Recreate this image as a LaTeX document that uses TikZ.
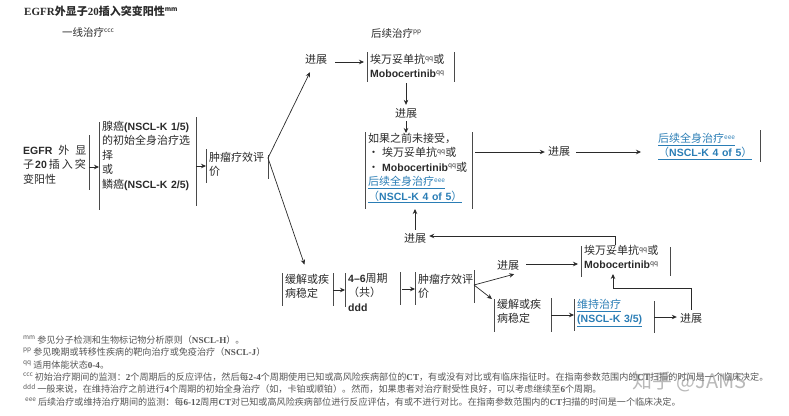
\documentclass[tikz,border=0pt]{standalone}
\usepackage{fontspec}
\setmainfont{Noto Sans CJK SC}
\newfontfamily\sansfont{Liberation Sans}
\newfontfamily\seriffont{Liberation Serif}
\usetikzlibrary{arrows.meta}

\definecolor{inkgray}{HTML}{2A2A2A}
\definecolor{barcolor}{HTML}{4A4A4A}
\definecolor{linkblue}{HTML}{2A7DB5}
\definecolor{notegray}{HTML}{555555}

\newcommand{\en}[1]{{\sansfont\bfseries\fontsize{10.5}{14.4}\selectfont #1}}
\newcommand{\sr}[1]{{\seriffont\bfseries #1}}
\newcommand{\sps}[1]{\raisebox{3.5pt}{\fontsize{6.5}{6.5}\selectfont #1}}
\newcommand{\lnk}[1]{\textcolor{linkblue}{\underline{#1}}}
\newcommand{\sidebars}[5]{%
  \draw[bar] (#1.west |- 0,#2) -- (#1.west |- 0,#3);
  \draw[bar] (#1.east |- 0,#4) -- (#1.east |- 0,#5);}

\tikzset{
  flowbox/.style={anchor=north west, align=left, inner xsep=3pt, inner ysep=0pt,
    text=inkgray, font=\fontsize{11}{14.4}\selectfont},
  steplabel/.style={inner sep=3pt, text=inkgray, font=\fontsize{11}{14}\selectfont},
  headlabel/.style={anchor=west, inner sep=0pt, text=inkgray, font=\fontsize{10.5}{12}\selectfont},
  fnote/.style={anchor=west, inner sep=0pt, text=notegray, font=\fontsize{9.1}{10}\selectfont},
  bar/.style={draw=barcolor, line width=0.95pt},
  arr/.style={draw=inkgray, line width=0.7pt, -{Stealth[length=5pt,width=4.5pt]}}
}

\begin{document}
\begin{tikzpicture}[x=1pt,y=-1pt]

  % Fix the page to the size of the reference
  \useasboundingbox (0,0) rectangle (789,415);

  % Titles
  \node[headlabel,font=\bfseries\fontsize{11}{12}\selectfont] (title) at (24,11) {{\seriffont EGFR}外显子{\seriffont 20}插入突变阳性\sps{mm}};
  \node[headlabel] (firstline) at (62,32) {一线治疗\sps{ccc}};
  \node[headlabel] (laterline) at (371,33) {后续治疗\sps{pp}};

  % First line boxes
  \node[flowbox,text width=63pt] (egfr) at (20,145) {\mbox{\en{EGFR}\hspace{6pt}外\hspace{6pt}显}\\\mbox{子\hspace{1pt}\en{20}\hspace{2pt}插\hspace{2pt}入\hspace{2pt}突}\\变阳性};
  \node[flowbox,text width=91pt] (adeno) at (99,121) {腺癌\en{(NSCL-K~1/5)}\\的初始全身治疗选\\择\\或\\鳞癌\en{(NSCL-K~2/5)}};
  \node[flowbox,text width=56pt] (evalone) at (206,152) {肿瘤疗效评\\价};
  \draw[bar] (egfr.east |- 0,135) -- (egfr.east |- 0,190);
  \sidebars{adeno}{122}{210}{117}{206}
  \sidebars{evalone}{149}{183}{155}{179}

  % Later line boxes, upper branch
  \node[steplabel] (progtop) at (316,59) {进展};
  \node[flowbox,text width=81pt] (amivone) at (367,54) {埃万妥单抗\sps{qq}或\\\en{Mobocertinib}\sps{qq}};
  \node[steplabel] (progmid) at (406,113) {进展};
  \node[flowbox,text width=101pt] (ifnot) at (365,133) {如果之前未接受，\\\mbox{•\hspace{3pt}埃万妥单抗\sps{qq}或}\\\mbox{•\hspace{3pt}\en{Mobocertinib}\sps{qq}或}\\\lnk{后续全身治疗\sps{eee}}\\\lnk{（\en{NSCL-K~4~of~5}）}};
  \node[steplabel] (progright) at (559,151) {进展};
  \node[flowbox,text width=99pt] (nextall) at (655,133) {\lnk{后续全身治疗\sps{eee}}\\\lnk{（\en{NSCL-K~4~of~5}）}};
  \sidebars{amivone}{52}{82}{52}{82}
  \sidebars{ifnot}{132}{209}{132}{209}
  \draw[bar] (nextall.east |- 0,130) -- (nextall.east |- 0,162);

  % Stable disease branch
  \node[flowbox,text width=45pt] (stableone) at (282,274) {缓解或疾\\病稳定};
  \node[flowbox,text width=49pt] (cycles) at (345,273) {\en{4–6}周期\\（共）\\\en{ddd}};
  \node[flowbox,text width=53pt] (evaltwo) at (415,274) {肿瘤疗效评\\价};
  \node[steplabel] (proglow) at (415,238) {进展};
  \node[steplabel] (progsplit) at (508,265) {进展};
  \node[flowbox,text width=83pt] (amivtwo) at (581,245) {埃万妥单抗\sps{qq}或\\\en{Mobocertinib}\sps{qq}};
  \node[flowbox,text width=51pt] (stabletwo) at (494,299) {缓解或疾\\病稳定};
  \node[flowbox,text width=74pt] (maintain) at (574,299) {\lnk{维持治疗}\\\lnk{\en{(NSCL-K~3/5)}}};
  \node[steplabel] (progend) at (691,318) {进展};
  \sidebars{stableone}{273}{306}{273}{306}
  \sidebars{cycles}{273}{307}{272}{305}
  \sidebars{evaltwo}{272}{305}{270}{303}
  \sidebars{amivtwo}{246}{277}{247}{276}
  \sidebars{stabletwo}{299}{332}{298}{332}
  \sidebars{maintain}{299}{331}{301}{333}

  % Split points and bends
  \coordinate (splitup) at (268,158);
  \coordinate (splitlow) at (474,285);
  \coordinate (bendlow) at (613,288);

  % Connectors
  \draw[arr] (egfr.east |- 0,167) -- (adeno.west |- 0,167);
  \draw[arr] (adeno.east |- 0,166) -- (evalone.west |- 0,166);
  \draw[arr] (splitup) -- ([xshift=-6pt,yshift=-5pt]progtop.south);
  \draw[arr,shorten >=10pt] (splitup) -- (stableone.north);
  \draw[arr,shorten <=5pt,shorten >=3pt] (progtop.east |- 0,62) -- (amivone.west |- 0,62);
  \draw[arr] (amivone.south -| progmid) ++(0,5) -- (progmid.north);
  \draw[arr] (progmid.south) -- (progmid.south |- ifnot.north);
  \draw[arr,shorten <=3pt] (ifnot.east |- 0,152) -- (progright.west |- 0,152);
  \draw[arr,shorten <=3pt,shorten >=14pt] (progright.east |- 0,152) -- (nextall.west |- 0,152);
  \draw[arr] (proglow.north) -- (proglow.north |- 0,209);
  \draw[arr] (amivtwo.north -| 615,0) |- (proglow.east |- 0,236);
  \draw[arr] (stableone.east |- 0,290) -- (cycles.west |- 0,290);
  \draw[arr,shorten <=2pt] (cycles.east |- 0,289) -- (evaltwo.west |- 0,289);
  \draw[arr] (splitlow) -- ([xshift=-8pt,yshift=-1pt]progsplit.south east);
  \draw[arr] (splitlow) -- (stabletwo.north -| 492,0);
  \draw[arr,shorten <=4pt,shorten >=3pt] (progsplit.east |- 0,264) -- (amivtwo.west |- 0,264);
  \draw[arr] (stabletwo.east |- 0,315) -- (maintain.west |- 0,315);
  \draw[arr] (maintain.east |- 0,317) -- (progend.west |- 0,317);
  \draw[draw=inkgray,line width=0.7pt] (progend.north) -- (progend.north |- bendlow) -- (bendlow);
  \draw[arr] (bendlow) -- (613,274);

  % Footnotes
  \node[fnote] (notemm) at (23,340) {\sps{mm} 参见分子检测和生物标记物分析原则（\sr{NSCL-H}）。};
  \node[fnote] (notepp) at (23,352) {\sps{pp} 参见晚期或转移性疾病的靶向治疗或免疫治疗（\sr{NSCL-J}）};
  \node[fnote] (noteqq) at (23,365) {\sps{qq} 适用体能状态\sr{0-4}。};
  \node[fnote] (noteccc) at (23,377) {\sps{ccc} 初始治疗期间的监测：\sr{2}个周期后的反应评估，然后每\sr{2-4}个周期使用已知或高风险疾病部位的\sr{CT}，有或没有对比或有临床指征时。在指南参数范围内的\sr{CT}扫描的时间是一个临床决定。};
  \node[fnote] (noteddd) at (23,389) {\sps{ddd} 一般来说，在维持治疗之前进行\sr{4}个周期的初始全身治疗（如，卡铂或顺铂）。然而，如果患者对治疗耐受性良好，可以考虑继续至\sr{6}个周期。};
  \node[fnote] (noteeee) at (25,402) {\sps{eee} 后续治疗或维持治疗期间的监测：每\sr{6-12}周用\sr{CT}对已知或高风险疾病部位进行反应评估，有或不进行对比。在指南参数范围内的\sr{CT}扫描的时间是一个临床决定。};

  % Watermark
  \node[anchor=west,inner sep=0pt,text=gray,opacity=0.55,font=\fontsize{20}{22}\selectfont] (mark) at (632,382) {知乎 @JAMS};

\end{tikzpicture}
\end{document}
